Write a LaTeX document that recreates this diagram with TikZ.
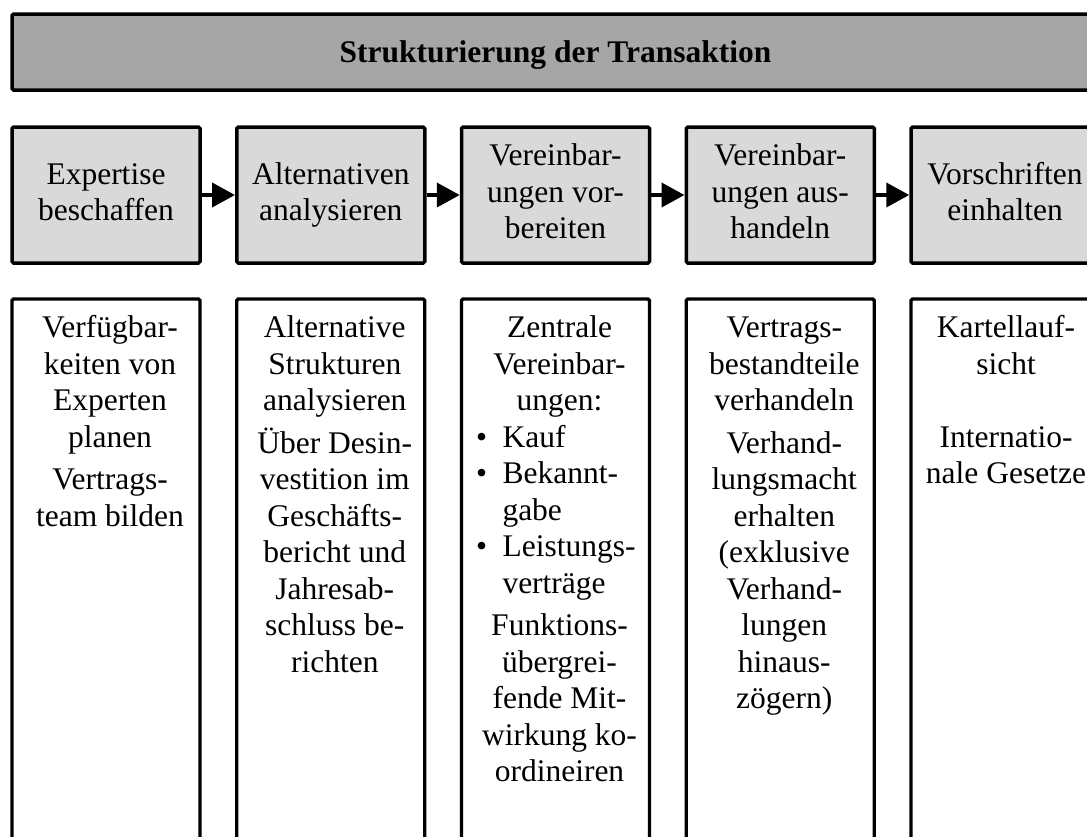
\documentclass[tikz,border=0pt]{standalone}
\usepackage{fontspec}
\setmainfont{Liberation Serif}
\usetikzlibrary{arrows.meta}
\definecolor{titlegray}{RGB}{166,166,166}
\definecolor{stepgray}{RGB}{217,217,217}
\begin{document}
\begin{tikzpicture}[x=1pt,y=-1pt,
  every node/.style={font=\fontsize{31.5}{36.5}\selectfont},
  titlebox/.style={draw, line width=3.5pt, rounded corners=1.5pt, fill=titlegray,
    minimum width=1087pt, minimum height=76pt, inner sep=0pt,
    text height=28pt, text depth=8pt},
  stepbox/.style={draw, line width=3.5pt, rounded corners=1.5pt, fill=stepgray,
    minimum width=188pt, minimum height=136pt, align=center, inner sep=0pt},
  detailbox/.style={draw, line width=3.3pt, rounded corners=1.5pt, fill=white,
    minimum width=188pt, minimum height=570pt, inner sep=0pt},
  detailtext/.style={anchor=north, align=center, inner sep=0pt},
  flow/.style={line width=4pt, -{Triangle[length=23pt,width=24pt]}}
]
\useasboundingbox (0,0) rectangle (1087,836);
\clip (0,0) rectangle (1087,836);

% heading bar
\node[titlebox] (title) at (555.5,52) {\textbf{Strukturierung der Transaktion}};

% process steps
\node[stepbox] (s1) at (106,195)    {\strut Expertise\\beschaffen\strut};
\node[stepbox] (s2) at (330.75,195) {\strut Alternativen\\analysieren\strut};
\node[stepbox] (s3) at (555.5,195)  {\strut Vereinbar-\\ungen vor-\\bereiten\strut};
\node[stepbox] (s4) at (780.25,195) {\strut Vereinbar-\\ungen aus-\\handeln\strut};
\node[stepbox] (s5) at (1005,195)   {\strut Vorschriften\\einhalten\strut};

\draw[flow] (s1) -- (s2);
\draw[flow] (s2) -- (s3);
\draw[flow] (s3) -- (s4);
\draw[flow] (s4) -- (s5);

% detail columns
\node[detailbox] (d1) at (106,584) {};
\node[detailbox] (d2) at (330.75,584) {};
\node[detailbox] (d3) at (555.5,584) {};
\node[detailbox] (d4) at (780.25,584) {};
\node[detailbox] (d5) at (1005,584) {};

\node[detailtext] (t1) at (110,312) {\strut Verfügbar-\\keiten von\\Experten\\planen\\[6pt]
  Vertrags-\\team bilden};
\node[detailtext] (t2) at (334.75,312) {\strut Alternative\\Strukturen\\analysieren\\[6pt]
  Über Desin-\\vestition im\\Geschäfts-\\bericht und\\Jahresab-\\schluss be-\\richten};
\node[detailtext] (t3) at (559.5,312) {\strut Zentrale\\Vereinbar-\\ungen:\\
  \makebox[170pt][l]{\hspace{1.5pt}\textbullet\hspace{15.5pt}Kauf}\\
  \makebox[170pt][l]{\hspace{1.5pt}\textbullet\hspace{15.5pt}Bekannt-}\\
  \makebox[170pt][l]{\hspace{28pt}gabe}\\
  \makebox[170pt][l]{\hspace{1.5pt}\textbullet\hspace{15.5pt}Leistungs-}\\
  \makebox[170pt][l]{\hspace{28pt}verträge}\\[6pt]
  Funktions-\\übergrei-\\fende Mit-\\wirkung ko-\\ordineiren};
\node[detailtext] (t4) at (784.25,312) {\strut Vertrags-\\bestandteile\\verhandeln\\[6pt]
  Verhand-\\lungsmacht\\erhalten\\(exklusive\\Verhand-\\lungen\\hinaus-\\zögern)};
\node[detailtext] (t5) at (1006,312) {\strut Kartellauf-\\sicht\\[36.5pt]
  Internatio-\\nale Gesetze};
\end{tikzpicture}
\end{document}
